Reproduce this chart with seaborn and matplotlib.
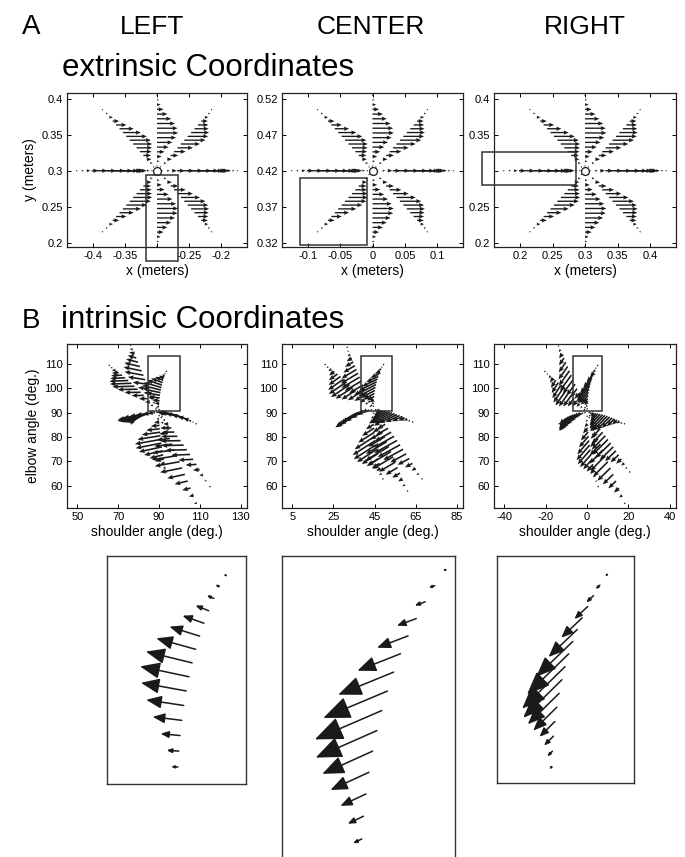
import numpy as np
import pandas as pd
import matplotlib
matplotlib.use("Agg")
import matplotlib.pyplot as plt
from matplotlib.patches import Rectangle
import seaborn as sns

# arm: shoulder at origin, two 0.3 m links
panels = ["LEFT", "CENTER", "RIGHT"]
start_x = [-0.3, 0.0, 0.3]
start_y = [0.3, 0.42, 0.3]
start_shoulder = [90, 45, 0]
link_upper = 0.3
link_fore = 0.3

# eight reaches out of each start point (deg, m), 16 samples each
reach_dir = [0, 45, 90, 135, 180, 225, 270, 315]
reach_len = [0.125, 0.12, 0.105, 0.12, 0.125, 0.12, 0.105, 0.12]
n_steps = 16
# force (+x) along a reach, peak = 1
force_mag = [0.06, 0.12, 0.22, 0.36, 0.55, 0.73, 0.90, 1.0,
             0.97, 0.85, 0.67, 0.49, 0.31, 0.17, 0.10, 0.03]

ext_xticks = [[-0.4, -0.35, -0.3, -0.25, -0.2], [-0.1, -0.05, 0, 0.05, 0.1], [0.2, 0.25, 0.3, 0.35, 0.4]]
ext_xlabels = [["-0.4", "-0.35", "", "-0.25", "-0.2"], ["-0.1", "-0.05", "0", "0.05", "0.1"],
               ["0.2", "0.25", "0.3", "0.35", "0.4"]]
ext_yticks = [[0.2, 0.25, 0.3, 0.35, 0.4], [0.32, 0.37, 0.42, 0.47, 0.52], [0.2, 0.25, 0.3, 0.35, 0.4]]
ext_ylabels = [["0.2", "0.25", "0.3", "0.35", "0.4"], ["0.32", "0.37", "0.42", "0.47", "0.52"],
               ["0.2", "0.25", "", "0.35", "0.4"]]
int_xticks = [[50, 70, 90, 110, 130], [5, 25, 45, 65, 85], [-40, -20, 0, 20, 40]]
int_yticks = [60, 70, 80, 90, 100, 110]

# zoom boxes (x0, y0, w, h)
ext_box = [(-0.317, 0.174, 0.05, 0.12), (-0.112, 0.317, 0.104, 0.093), (0.142, 0.28, 0.144, 0.0455)]
int_box = [(84.5, 90.7, 15.7, 22.2), (38.5, 90.7, 14.9, 22.2), (-7.0, 90.7, 14.4, 22.2)]
inset_dir = [270, 225, 180]
inset_first = [2, 2, 1]

# ---- build table of samples ----
rows = []
for p, name in enumerate(panels):
    for d, R in zip(reach_dir, reach_len):
        for i in range(1, n_steps + 1):
            r = R * i / n_steps
            x = start_x[p] + r * np.cos(np.radians(d))
            y = start_y[p] + r * np.sin(np.radians(d))
            c2 = (x**2 + y**2 - link_upper**2 - link_fore**2) / (2 * link_upper * link_fore)
            q2 = np.arccos(np.clip(c2, -1, 1))
            q1 = np.arctan2(y, x) - np.arctan2(link_fore * np.sin(q2), link_upper + link_fore * np.cos(q2))
            fx = force_mag[i - 1]
            rows.append(dict(panel=name, dir=d, step=i, x=x, y=y, fx=fx,
                             shoulder=np.degrees(q1), elbow=np.degrees(q2),
                             tau_s=-y * fx, tau_e=-link_fore * np.sin(q1 + q2) * fx))
df = pd.DataFrame(rows)

sns.set_theme(style="ticks")
plt.rcParams["font.family"] = ["Liberation Sans", "DejaVu Sans"]
plt.rcParams["axes.unicode_minus"] = False
plt.rcParams["text.color"] = "black"
plt.rcParams["axes.labelcolor"] = "black"

W, H = 685, 857
fig = plt.figure(figsize=(W / 100, H / 100), dpi=100)


def px_box(l, t, r, b):
    return [l / W, 1 - b / H, (r - l) / W, (b - t) / H]


def style_axes(ax):
    ax.tick_params(direction="in", length=3, width=0.7, top=True, right=True,
                   labelsize=8, pad=3, colors="black")
    for s in ax.spines.values():
        s.set_linewidth(0.9)
        s.set_color("#222222")


fig.text(22 / W, 1 - 34 / H, "A", fontsize=20)
for p, cx in enumerate([152, 371, 585]):
    fig.text(cx / W, 1 - 34 / H, panels[p], fontsize=19, ha="center")
fig.text(62 / W, 1 - 76 / H, "extrinsic Coordinates", fontsize=22.5)
fig.text(22 / W, 1 - 328 / H, "B", fontsize=20)
fig.text(61 / W, 1 - 328 / H, "intrinsic Coordinates", fontsize=22.5)

cols = [(67, 247), (282, 463), (494, 676)]
ext_scale = 0.033
int_scale = [36, 24, 21]
inset_px = [(107, 556, 246, 784), (282, 556, 455, 890), (497, 556, 634, 783)]
inset_anchor = [((225, 575), (178, 767)), ((436.7, 570), (370, 839)), ((601.7, 575), (556.7, 766.7))]
inset_target = [50, 73, 60]

for p, name in enumerate(panels):
    d = df[df.panel == name]
    l, r = cols[p]

    # ---- extrinsic ----
    ax = fig.add_axes(px_box(l, 93, r, 247))
    ax.quiver(d.x, d.y, d.fx * ext_scale, 0 * d.fx, angles="xy", scale_units="xy", scale=1,
              width=0.0075, headwidth=3.2, headlength=3.8, headaxislength=3.4, color="k")
    sns.scatterplot(x=[start_x[p]], y=[start_y[p]], ax=ax, marker="o", s=32,
                    color="white", edgecolor="k", linewidth=0.9, zorder=5)
    ax.set_xlim(start_x[p] - 0.14, start_x[p] + 0.14)
    ax.set_ylim(start_y[p] - 0.106, start_y[p] + 0.108)
    ax.set_xticks(ext_xticks[p], ext_xlabels[p])
    ax.set_yticks(ext_yticks[p], ext_ylabels[p])
    ax.set_xlabel("x (meters)", fontsize=10, labelpad=2)
    if p == 0:
        ax.set_ylabel("y (meters)", fontsize=10, labelpad=3)
    bx = ext_box[p]
    ax.add_patch(Rectangle(bx[:2], bx[2], bx[3], fill=False, lw=1.1, ec="#333333", clip_on=False, zorder=6))
    style_axes(ax)

    # ---- intrinsic ----
    ax = fig.add_axes(px_box(l, 344, r, 508))
    ax.quiver(d.shoulder, d.elbow, d.tau_s * int_scale[p], d.tau_e * int_scale[p],
              angles="xy", scale_units="xy", scale=1,
              width=0.009, headwidth=3.0, headlength=3.6, headaxislength=3.2, color="k")
    q0 = start_shoulder[p]
    ax.set_xlim(q0 - 45, q0 + 43)
    ax.set_ylim(51, 118)
    ax.set_xticks(int_xticks[p])
    ax.set_yticks(int_yticks)
    ax.set_xlabel("shoulder angle (deg.)", fontsize=10, labelpad=2)
    if p == 0:
        ax.set_ylabel("elbow angle (deg.)", fontsize=10, labelpad=3)
    bx = int_box[p]
    ax.add_patch(Rectangle(bx[:2], bx[2], bx[3], fill=False, lw=1.1, ec="#333333", zorder=6))
    style_axes(ax)

    # ---- zoomed inset of one reach ----
    il, it, ir, ib = inset_px[p]
    ax = fig.add_axes(px_box(il, it, ir, ib))
    s = d[(d.dir == inset_dir[p]) & (d.step >= inset_first[p])].sort_values("step")
    top, bot = s.iloc[-1], s.iloc[0]
    (tx, ty), (bx_, by) = inset_anchor[p]
    ppd = (by - ty) / (top.elbow - bot.elbow)
    ax.set_ylim(bot.elbow - (ib - by) / ppd, top.elbow + (ty - it) / ppd)
    sm, pm = (top.shoulder + bot.shoulder) / 2, (tx + bx_) / 2
    ax.set_xlim(sm - (pm - il) / ppd, sm + (ir - pm) / ppd)
    tau_len = np.hypot(s.tau_s, s.tau_e)
    k = inset_target[p] / (ppd * tau_len.max())
    for _, a in s.iterrows():
        L_pt = np.hypot(a.tau_s, a.tau_e) * k * ppd * 0.72
        ax.annotate("", xy=(a.shoulder + a.tau_s * k, a.elbow + a.tau_e * k), xytext=(a.shoulder, a.elbow),
                    arrowprops=dict(arrowstyle="-|>,head_length=0.34,head_width=0.14",
                                    mutation_scale=max(L_pt, 0.5), lw=1.1, color="k",
                                    shrinkA=0, shrinkB=0))
    ax.set_xticks([])
    ax.set_yticks([])
    for sp in ax.spines.values():
        sp.set_linewidth(1.0)
        sp.set_color("#333333")

fig.savefig("out.png", dpi=100)
